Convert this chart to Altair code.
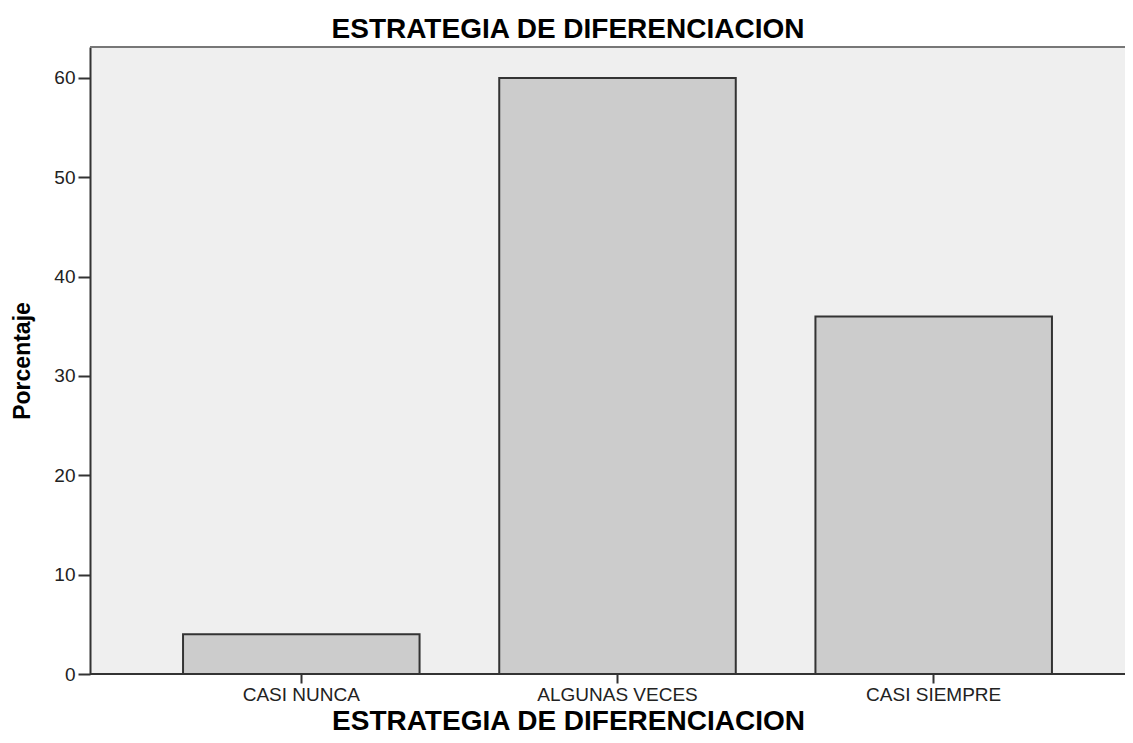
import altair as alt
import pandas as pd

categories = ["CASI NUNCA", "ALGUNAS VECES", "CASI SIEMPRE"]
percentages = [4, 60, 36]
y_ticks = [0, 10, 20, 30, 40, 50, 60]

df = pd.DataFrame({"cat": categories, "pct": percentages})

FONT = "Liberation Sans"
TITLE = "ESTRATEGIA DE DIFERENCIACION"
W, H = 1035, 627

bars = (
    alt.Chart(df)
    .mark_bar(fill="#cccccc", stroke="#333333", strokeWidth=2)
    .encode(
        x=alt.X(
            "cat:N",
            sort=categories,
            title=TITLE,
            scale=alt.Scale(range=[53.2, 1001.8], paddingInner=0.252, paddingOuter=0.126),
            axis=alt.Axis(
                labelAngle=0,
                labelFont=FONT,
                labelFontSize=19,
                labelColor="#222222",
                labelPadding=2,
                tickSize=9,
                tickColor="#333333",
                tickWidth=2,
                domain=False,
                titleFont=FONT,
                titleFontSize=28,
                titleFontWeight="bold",
                titleColor="#000000",
                titleX=478,
                titleY=55,
                titleAlign="center",
                titleBaseline="alphabetic",
            ),
        ),
        y=alt.Y(
            "pct:Q",
            title="Porcentaje",
            scale=alt.Scale(domain=[0, 63.12], nice=False, zero=True),
            axis=alt.Axis(
                values=y_ticks,
                grid=False,
                labelFont=FONT,
                labelFontSize=19,
                labelColor="#222222",
                labelPadding=3,
                tickSize=12,
                tickColor="#333333",
                tickWidth=2,
                domainColor="#333333",
                domainWidth=2,
                titleFont=FONT,
                titleFontSize=23,
                titleFontWeight="bold",
                titleColor="#000000",
                titleAngle=270,
                titleX=-68,
                titleY=313.5,
                titleAlign="center",
                titleBaseline="middle",
            ),
        ),
    )
)

top_border = alt.Chart(df).mark_rule(color="#777777", strokeWidth=2).encode(
    x=alt.value(0), x2=alt.value(W), y=alt.value(0)
)
bottom_line = alt.Chart(df).mark_rule(color="#333333", strokeWidth=2).encode(
    x=alt.value(0), x2=alt.value(W), y=alt.value(H)
)

chart = (
    alt.layer(bars, top_border, bottom_line)
    .properties(
        width=W,
        height=H,
        title=alt.TitleParams(
            text=TITLE,
            font=FONT,
            fontSize=28,
            fontWeight="bold",
            color="#000000",
            anchor="middle",
            frame="group",
            dx=-39.5,
            offset=-20,
            baseline="alphabetic",
        ),
        padding={"left": 82, "top": 39, "right": 0, "bottom": 61},
        autosize="none",
    )
    .configure_view(fill="#efefef", stroke="transparent")
)

chart.save("out.html", embed_options={"renderer": "svg", "actions": False})
